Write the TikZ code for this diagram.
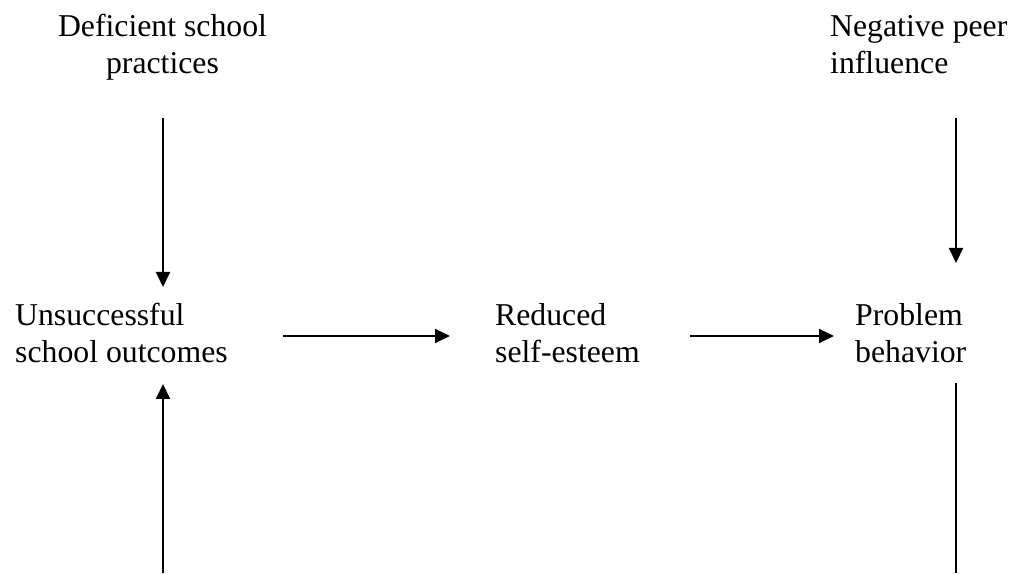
\documentclass[tikz,border=0pt]{standalone}
\usepackage{fontspec}
\setmainfont{Liberation Serif}
\usetikzlibrary{arrows.meta}
\begin{document}
\begin{tikzpicture}[x=1pt,y=1pt,
  lbl/.style={inner sep=0pt,font=\fontsize{31.75}{37}\selectfont},
  conn/.style={line width=2pt},
  arr/.style={conn,-{Triangle[length=15pt,width=14pt]}}]
\useasboundingbox (0,0) rectangle (1014,573);
\node[lbl,align=center,anchor=base] (dsp) at (162.5,499) {Deficient school\\practices};
\node[lbl,align=left,anchor=base west] (npi) at (830,499) {Negative peer\\influence};
\node[lbl,align=left,anchor=base west] (uso) at (15,210) {Unsuccessful\\school outcomes};
\node[lbl,align=left,anchor=base west] (rse) at (495,210) {Reduced\\self-esteem};
\node[lbl,align=left,anchor=base west] (pb) at (855,210) {Problem\\behavior};
\coordinate (a1s) at (163,455);
\coordinate (a1e) at (163,286);
\coordinate (a2s) at (163,0);
\coordinate (a2e) at (163,189);
\coordinate (h1s) at (283,237);
\coordinate (h1e) at (450,237);
\coordinate (h2s) at (690,237);
\coordinate (h2e) at (834,237);
\coordinate (a3s) at (956,455);
\coordinate (a3e) at (956,310);
\coordinate (l1s) at (956,190);
\coordinate (l1e) at (956,0);
\draw[arr] (a1s) -- (a1e);
\draw[arr] (a2s) -- (a2e);
\draw[arr] (h1s) -- (h1e);
\draw[arr] (h2s) -- (h2e);
\draw[arr] (a3s) -- (a3e);
\draw[conn] (l1s) -- (l1e);
\end{tikzpicture}
\end{document}
